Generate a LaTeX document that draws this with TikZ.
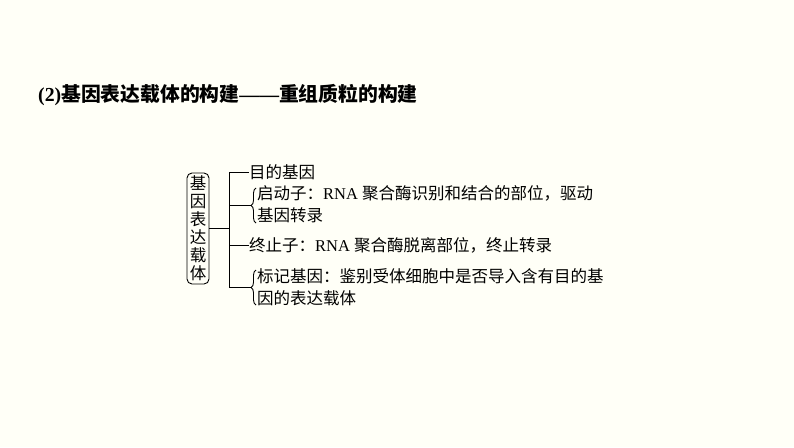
\documentclass[tikz,border=0pt]{standalone}
\usepackage{fontspec}
\setmainfont{Liberation Serif}
\newfontfamily\cjk{Noto Sans CJK SC}
\usetikzlibrary{decorations.pathreplacing}
\definecolor{bg}{RGB}{255,255,247}
\begin{document}
\begin{tikzpicture}[x=1pt,y=-1pt,
  lbl/.style={anchor=west, inner sep=0pt, font=\fontsize{16.5}{18}\selectfont},
  conn/.style={line width=0.9pt},
  brc/.style={line width=0.9pt, decorate, decoration={brace, amplitude=5pt}}]
\fill[bg] (0,0) rectangle (794,447);
\useasboundingbox (0,0) rectangle (794,447);
\node[anchor=west, inner sep=0pt, font=\fontsize{19.8}{22}\selectfont\bfseries] (title) at (38,95) {(2){\cjk 基因表达载体的构建}——{\cjk 重组质粒的构建}};
\node[draw, conn, rounded corners=5pt, minimum width=22pt, minimum height=111pt, inner sep=0pt, align=center, font=\cjk\fontsize{16.5}{18}\selectfont] (vec) at (198,228.5) {基\\因\\表\\达\\载\\体};
\coordinate (j) at (229,228.5);
\coordinate (top) at (229,172);
\coordinate (bot) at (229,287.5);
\coordinate (t1) at (229,205.5);
\coordinate (b1) at (251,205.5);
\coordinate (t2) at (229,245);
\coordinate (t3) at (229,287.5);
\coordinate (b3) at (251,287.5);
\draw[conn] (vec.east) -- (j);
\draw[conn] (top) -- (bot);
\node[lbl] (mu) at (249,172) {\cjk 目的基因};
\draw[conn] (top) -- (mu.west);
\draw[conn] (t1) -- (b1);
\draw[brc] (256,223) -- (256,188);
\node[lbl] (p1a) at (257,193) {{\cjk 启动子：}RNA {\cjk 聚合酶识别和结合的部位，驱动}};
\node[lbl] (p1b) at (257,215) {\cjk 基因转录};
\node[lbl] (zz) at (249,245) {{\cjk 终止子：}RNA {\cjk 聚合酶脱离部位，终止转录}};
\draw[conn] (t2) -- (zz.west);
\draw[conn] (t3) -- (b3);
\draw[brc] (256,305) -- (256,270);
\node[lbl] (bja) at (257,276) {\cjk 标记基因：鉴别受体细胞中是否导入含有目的基};
\node[lbl] (bjb) at (257,298) {\cjk 因的表达载体};
\end{tikzpicture}
\end{document}
